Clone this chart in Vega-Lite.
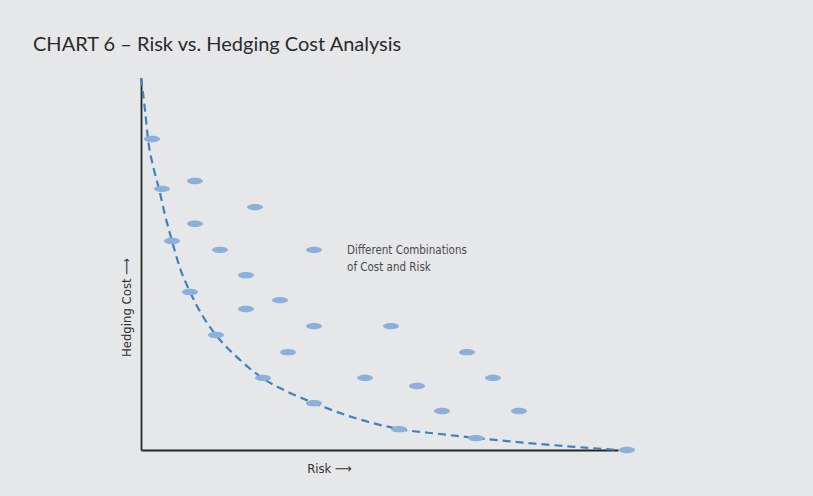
{
  "$schema": "https://vega.github.io/schema/vega-lite/v6.json",
  "autosize": "none",
  "width": 477,
  "height": 372,
  "padding": {"left": 141, "top": 78, "right": 195, "bottom": 46},
  "background": "#e6e7e9",
  "title": {
    "text": "CHART 6 – Risk vs. Hedging Cost Analysis",
    "anchor": "start",
    "frame": "group",
    "dx": -108,
    "offset": 3,
    "baseline": "alphabetic",
    "font": "Lato",
    "fontSize": 20,
    "fontWeight": "normal",
    "color": "#2b2b2b"
  },
  "config": {
    "view": {"stroke": null},
    "axis": {
      "grid": false,
      "ticks": false,
      "labels": false,
      "domainColor": "#262626",
      "domainWidth": 1.8,
      "titleFont": "DejaVu Sans Condensed, Liberation Sans Narrow, Roboto, sans-serif",
      "titleFontSize": 13,
      "titleFontWeight": "normal",
      "titleColor": "#333333"
    }
  },
  "datasets": {
    "curve": [
      {"risk": 0, "cost": 100},
      {"risk": 0.84, "cost": 91.4},
      {"risk": 1.47, "cost": 83.6},
      {"risk": 2.73, "cost": 75.3},
      {"risk": 3.77, "cost": 70.2},
      {"risk": 5.03, "cost": 63.2},
      {"risk": 6.5, "cost": 56.2},
      {"risk": 8.18, "cost": 48.9},
      {"risk": 10.27, "cost": 42.5},
      {"risk": 12.79, "cost": 36.3},
      {"risk": 15.72, "cost": 30.9},
      {"risk": 20.34, "cost": 24.7},
      {"risk": 25.37, "cost": 19.4},
      {"risk": 30.82, "cost": 15.6},
      {"risk": 36.27, "cost": 12.6},
      {"risk": 44.86, "cost": 8.6},
      {"risk": 54.3, "cost": 5.6},
      {"risk": 62.68, "cost": 4.3},
      {"risk": 70.44, "cost": 3.2},
      {"risk": 83.65, "cost": 1.6},
      {"risk": 100, "cost": 0}
    ],
    "points": [
      {"risk": 2.31, "cost": 83.6},
      {"risk": 4.4, "cost": 70.2},
      {"risk": 11.32, "cost": 72.3},
      {"risk": 11.32, "cost": 60.8},
      {"risk": 6.5, "cost": 56.2},
      {"risk": 23.9, "cost": 65.3},
      {"risk": 16.56, "cost": 53.8},
      {"risk": 36.27, "cost": 53.8},
      {"risk": 22.01, "cost": 47.0},
      {"risk": 10.27, "cost": 42.5},
      {"risk": 29.14, "cost": 40.3},
      {"risk": 22.01, "cost": 37.9},
      {"risk": 36.27, "cost": 33.3},
      {"risk": 52.41, "cost": 33.3},
      {"risk": 15.72, "cost": 30.9},
      {"risk": 30.82, "cost": 26.3},
      {"risk": 68.34, "cost": 26.3},
      {"risk": 25.58, "cost": 19.4},
      {"risk": 46.96, "cost": 19.4},
      {"risk": 73.79, "cost": 19.4},
      {"risk": 57.86, "cost": 17.2},
      {"risk": 36.27, "cost": 12.6},
      {"risk": 63.1, "cost": 10.5},
      {"risk": 79.25, "cost": 10.5},
      {"risk": 54.09, "cost": 5.6},
      {"risk": 70.23, "cost": 3.2},
      {"risk": 101.89, "cost": 0}
    ],
    "labels": [
      {"risk": 43.2, "cost": 55.2, "label": ["Different Combinations", "of Cost and Risk"]}
    ]
  },
  "encoding": {
    "x": {
      "field": "risk",
      "type": "quantitative",
      "scale": {"domain": [0, 100], "nice": false},
      "axis": {"title": "Risk ⟶", "titleX": 188, "titleY": 22, "titleBaseline": "alphabetic", "titleAlign": "center"}
    },
    "y": {
      "field": "cost",
      "type": "quantitative",
      "scale": {"domain": [0, 100], "nice": false},
      "axis": {"title": "Hedging Cost ⟶", "titleX": -11, "titleY": 229, "titleAngle": -90, "titleBaseline": "alphabetic", "titleAlign": "center"}
    }
  },
  "layer": [
    {
      "data": {"name": "curve"},
      "mark": {"type": "line", "interpolate": "monotone", "stroke": "#3d82c3", "strokeWidth": 2.2, "strokeDash": [8, 5]}
    },
    {
      "data": {"name": "points"},
      "mark": {
        "type": "point",
        "shape": "M -1 0 A 1 0.4 0 1 0 1 0 A 1 0.4 0 1 0 -1 0 Z",
        "size": 256,
        "filled": true,
        "fill": "#8db0da",
        "opacity": 1,
        "strokeWidth": 0
      }
    },
    {
      "data": {"name": "labels"},
      "mark": {
        "type": "text",
        "align": "left",
        "baseline": "top",
        "font": "DejaVu Sans Condensed, Liberation Sans Narrow, Roboto, sans-serif",
        "fontSize": 11.5,
        "lineHeight": 17,
        "color": "#4a4a4a"
      },
      "encoding": {"text": {"field": "label"}}
    }
  ]
}
